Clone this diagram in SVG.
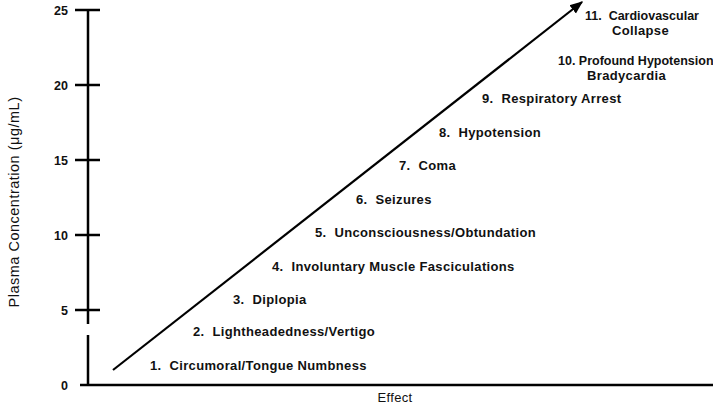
<svg xmlns="http://www.w3.org/2000/svg" width="713" height="407" viewBox="0 0 713 407">
<style>
text{font-family:"Liberation Sans",Arial,sans-serif;font-size:13px;font-weight:bold;fill:#111;letter-spacing:0.35px}
.ax{stroke:#000;stroke-width:2.5;fill:none}
.tk{font-size:12.5px;letter-spacing:0}
.lab{font-weight:normal}
.fit{font-size:12.5px;letter-spacing:0}
</style>
<defs>
<marker id="ah" viewBox="0 0 10 10" refX="9" refY="5" markerWidth="6" markerHeight="6" orient="auto" markerUnits="strokeWidth">
<path d="M0,1 L10,5 L0,9 Z" fill="#000"/>
</marker>
</defs>
<rect width="713" height="407" fill="#fff"/>
<g id="axes">
<path class="ax" d="M88,10 V324 M88,335 V386 M80,385 H713 M75,10 H100 M75,85 H100 M75,160 H100 M75,235 H100 M75,310 H100"/>
<text class="tk" x="68" y="15" text-anchor="end">25</text>
<text class="tk" x="68" y="90" text-anchor="end">20</text>
<text class="tk" x="68" y="165" text-anchor="end">15</text>
<text class="tk" x="68" y="240" text-anchor="end">10</text>
<text class="tk" x="68" y="315" text-anchor="end">5</text>
<text class="tk" x="68" y="390" text-anchor="end">0</text>
<text class="lab" x="395" y="402" text-anchor="middle">Effect</text>
<text class="lab" transform="translate(19,202) rotate(-90)" text-anchor="middle" style="font-size:14.5px;letter-spacing:0.5px">Plasma Concentration (μg/mL)</text>
</g>
<g id="connectors">
<line x1="113" y1="370" x2="582" y2="2" stroke="#000" stroke-width="2.2" marker-end="url(#ah)"/>
</g>
<g id="n1"><text x="150" y="370" xml:space="preserve">1.  Circumoral/Tongue Numbness</text></g>
<g id="n2"><text x="193" y="336" xml:space="preserve">2.  Lightheadedness/Vertigo</text></g>
<g id="n3"><text x="233" y="304" xml:space="preserve">3.  Diplopia</text></g>
<g id="n4"><text x="272" y="271" xml:space="preserve">4.  Involuntary Muscle Fasciculations</text></g>
<g id="n5"><text x="315" y="237" xml:space="preserve">5.  Unconsciousness/Obtundation</text></g>
<g id="n6"><text x="356" y="204" xml:space="preserve">6.  Seizures</text></g>
<g id="n7"><text x="399" y="170" xml:space="preserve">7.  Coma</text></g>
<g id="n8"><text x="439" y="137" xml:space="preserve">8.  Hypotension</text></g>
<g id="n9"><text x="482" y="103" xml:space="preserve">9.  Respiratory Arrest</text></g>
<g id="n10"><text class="fit" x="558" y="65">10. Profound Hypotension</text><text x="587" y="80">Bradycardia</text></g>
<g id="n11"><text class="fit" x="585" y="20" xml:space="preserve">11.  Cardiovascular</text><text x="612" y="35">Collapse</text></g>
</svg>
